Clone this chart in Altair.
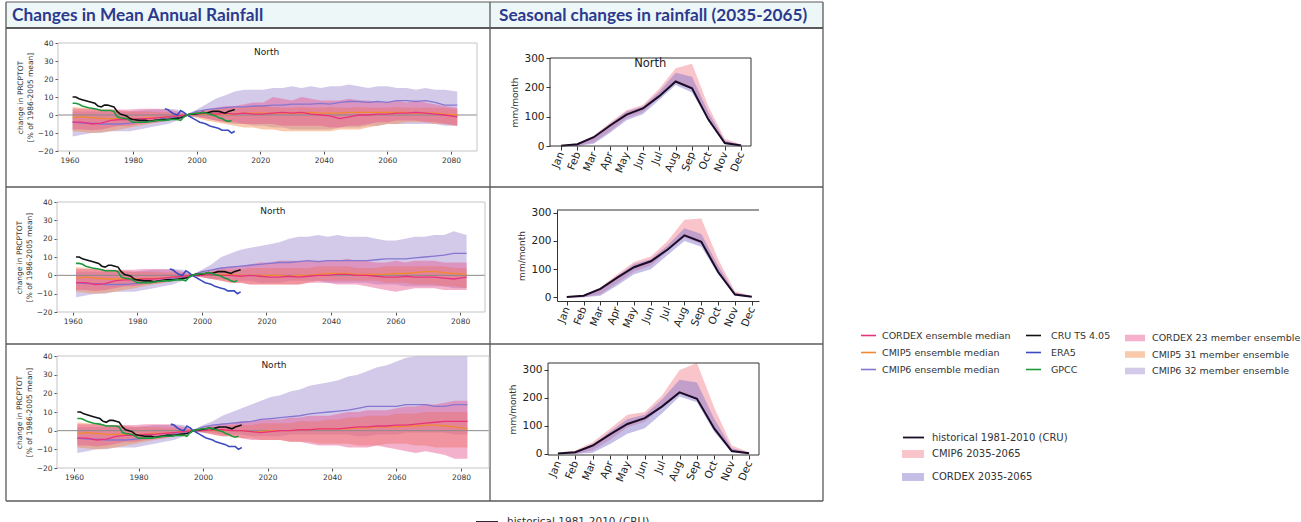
import altair as alt
import pandas as pd

W, H = 1301, 522

# ------------------------------------------------------------------ data
YEARS_HIST = [1961, 1964, 1967, 1970, 1973, 1976, 1979, 1982, 1985, 1988, 1991, 1994, 1997]
YEARS_FUT = [2000, 2003, 2006, 2009, 2012, 2015, 2018, 2021, 2024, 2027, 2030, 2033, 2036, 2039,
             2042, 2045, 2048, 2051, 2054, 2057, 2060, 2063, 2066, 2069, 2072, 2075, 2078, 2082]

# historical model envelopes / medians (same in all three panels)
CMIP6_LO_HIST = [-12, -11, -10, -10, -9, -9, -9, -8, -7, -6, -5, -3, -0.5]
CMIP6_HI_HIST = [2, 2, 2, 2, 2, 2, 2, 2.5, 3, 3, 3.5, 3, 0.5]
CMIP5_LO_HIST = [-9, -9.5, -10, -9.5, -9, -8, -7, -6, -5, -4, -3, -2, -0.5]
CMIP5_HI_HIST = [4.5, 4, 3.5, 3, 3, 2.5, 2, 2, 2, 1.5, 1.5, 1, 0.5]
CORDEX_LO_HIST = [-8, -8, -8.5, -8, -7, -6, -6, -5, -4.5, -4, -3, -2, -0.5]
CORDEX_HI_HIST = [3.5, 3.5, 3.5, 3, 3, 3, 3, 3.5, 3.5, 3.5, 3, 2, 0.5]
CMIP6_MED_HIST = [-4, -4.5, -4.5, -5, -5, -5, -4.5, -4, -3.5, -2.5, -1.5, -1, 0]
CMIP5_MED_HIST = [-1.5, -1, -1.5, -2, -2, -2, -2, -2, -1.5, -1.5, -1, -0.5, 0]
CORDEX_MED_HIST = [-4, -4, -5, -4.5, -3, -2.5, -2.5, -2, -2, -1.5, -1, -0.5, 0]

# panel 1 future
CMIP6_HI_P1 = [3, 6, 9, 11, 13, 14, 14, 14, 15, 15, 16, 15, 16, 15, 16, 16, 17, 16, 15, 16, 16, 15, 15, 14, 15, 14, 14, 13]
CMIP6_LO_P1 = [-1, -2, -3, -4, -5, -5, -6, -6, -7, -7, -8, -8, -8, -8, -8, -7, -7, -7, -6, -6, -5, -5, -5, -5, -5, -5, -6, -6]
CMIP6_MED_P1 = [2, 3, 3.5, 4, 4.5, 4.5, 5, 5, 5.5, 5.5, 6, 6, 6, 6.5, 6, 7, 7.5, 7.5, 7, 7.5, 7, 8, 8, 7.5, 8, 7, 5.5, 5.5]
CORDEX_HI_P1 = [2, 3, 4, 5, 5, 6, 7, 7, 10, 9, 8, 10, 9, 8, 8, 8, 9, 8, 8, 7, 7, 8, 7, 8, 7, 6, 5, 4]
CORDEX_LO_P1 = [-1, -2, -3, -4, -4, -5, -5, -5, -5, -6, -6, -6, -6, -6, -7, -7, -6, -6, -5, -4, -4, -3, -3, -3, -4, -4, -5, -6]
CORDEX_MED_P1 = [0.5, 1, 0.5, 1, 0.5, 1, 0.5, 0.5, 1, 1.5, 1, 1.5, 0.5, 0, -0.5, -2, -1, 0, 0, 0.5, 0.5, 1, 1, 1.5, 1, 0.5, 0, -1]
CMIP5_HI_P1 = [1.5, 2.5, 3, 4, 4, 4.5, 5, 5, 4.5, 4, 4, 4.5, 4, 4, 4.5, 4, 4, 4.5, 4, 4, 4, 4.5, 4, 4, 4, 4, 4, 3]
CMIP5_LO_P1 = [-1.5, -3, -4, -5, -6, -7, -7, -8, -8, -9, -9, -9, -9, -9, -9, -8, -8, -8, -7, -6, -5, -5, -4, -4, -4, -5, -5, -6]
CMIP5_MED_P1 = [0.5, 0.5, 0.5, 0.5, 0.5, 1, 1, 1, 1, 1, 1, 1, 1.5, 1, 1, 1, 1.5, 1.5, 1.5, 1.5, 1.5, 1.5, 1.5, 1, 1, 1, 0.5, 0]

# panel 2 future
CMIP6_HI_P2 = [3, 6, 10, 12, 14, 15, 16, 17, 18, 20, 21, 21, 22, 21, 22, 21, 21, 21, 20, 19, 19, 20, 21, 21, 22, 22, 24, 22]
CMIP6_LO_P2 = [-1, -2, -2, -3, -3, -3, -4, -4, -4, -3, -3, -3, -3, -4, -4, -4, -4, -4, -5, -5, -5, -6, -6, -6, -6, -6, -7, -7]
CMIP6_MED_P2 = [2, 3, 4, 4.5, 5, 5.5, 6, 6.5, 7, 7, 7.5, 8, 7.5, 8, 8, 8, 8, 8, 8.5, 9, 9, 9, 9.5, 10, 10.5, 11, 12, 12]
CORDEX_HI_P2 = [2, 3, 4, 5, 5, 6, 7, 7, 8, 8, 8, 8, 8, 8, 8, 9, 8, 8, 7, 7, 8, 7, 8, 8, 8, 7, 7, 7]
CORDEX_LO_P2 = [-1, -2, -3, -4, -4, -5, -5, -5, -5, -5, -5, -4, -4, -4, -5, -5, -5, -6, -7, -8, -9, -8, -7, -7, -7, -8, -8, -8]
CORDEX_MED_P2 = [0, 0.5, 0, 0, -0.5, 0, -0.5, -1, -1, -0.5, -1, -0.5, 0, 0, 0.5, 0.5, 0, 0, -0.5, -1, -1, -0.5, -1, -1, -1, -1.5, -2, -1]
CMIP5_HI_P2 = [1, 2, 3, 3, 3, 4, 4, 4, 4, 4, 4, 4, 5, 5, 5, 5, 4, 4, 4, 5, 5, 5, 5, 5, 5, 5, 4, 4]
CMIP5_LO_P2 = [-1, -2, -3, -4, -4, -5, -5, -5, -5, -5, -5, -4, -3, -3, -3, -3, -3, -3, -3, -4, -4, -4, -5, -5, -5, -6, -6, -7]
CMIP5_MED_P2 = [0, 0.5, 0.5, 0.5, 0, 0, 0, 0, 0, -0.5, 0, 0, 0.5, 1, 1, 1, 0.5, 0.5, 0.5, 0.5, 1, 1, 1.5, 2, 2, 1.5, 1, 0.5]

# panel 3 future
CMIP6_HI_P3 = [3, 5, 8, 10, 12, 14, 16, 18, 19, 21, 22, 24, 25, 26, 27, 29, 30, 32, 34, 35, 37, 39, 41, 40, 42, 43, 44, 45]
CMIP6_LO_P3 = [-1, -1, -2, -2, -2, -3, -3, -3, -3, -2, -2, -2, -2, -2, -2, -2, -3, -3, -2, -2, -2, -1, -1, -1, -1, -1, -2, -2]
CMIP6_MED_P3 = [2, 3, 3.5, 4, 4.5, 5, 6, 6.5, 7, 7.5, 8, 9, 9.5, 10, 10.5, 11, 12, 13, 13, 13, 13, 14, 14, 14, 13, 13, 14, 14]
CORDEX_HI_P3 = [2, 3, 4, 4, 5, 5, 6, 6, 6, 7, 7, 8, 8, 8, 9, 10, 10, 11, 11, 11, 12, 13, 13, 14, 14, 15, 16, 16]
CORDEX_LO_P3 = [-1, -2, -3, -3, -4, -5, -5, -5, -5, -6, -6, -7, -8, -8, -8, -9, -9, -9, -8, -9, -10, -11, -12, -11, -12, -13, -15, -15]
CORDEX_MED_P3 = [0, 0.5, 0.5, 0, 0, -0.5, -1, -0.5, 0, 0, 0.5, 0.5, 1, 1, 1, 1.5, 2, 2, 2.5, 2.5, 3, 3, 3.5, 4, 4.5, 5, 5, 5]
CMIP5_HI_P3 = [1, 2, 2, 3, 3, 3, 4, 4, 4, 4, 5, 5, 5, 6, 6, 7, 7, 8, 8, 8, 9, 9, 9, 10, 10, 10, 10, 10]
CMIP5_LO_P3 = [-1, -2, -3, -3, -4, -4, -5, -5, -5, -6, -6, -6, -7, -7, -7, -7, -8, -8, -8, -7, -7, -7, -8, -8, -9, -9, -9, -9]
CMIP5_MED_P3 = [0, 0, 0, 0, 0, -0.5, -0.5, 0, 0, 0, 0.5, 0.5, 1, 1, 1, 1, 1.5, 1.5, 2, 2, 2, 2.5, 2.5, 3, 3, 2.5, 2, 1]

# observations
CRU_YEARS = [1961, 1962, 1963, 1964, 1966, 1968, 1969, 1970, 1971, 1972, 1973, 1974, 1975, 1976, 1977, 1978,
             1979, 1980, 1982, 1984, 1985, 1987, 1989, 1991, 1993, 1995, 1996, 1997, 1998, 1999, 2001, 2002,
             2003, 2004, 2005, 2006, 2007, 2008, 2009, 2010, 2011, 2012]
CRU_VALS = [10, 10, 9, 8.5, 7.5, 6.5, 5, 4.5, 5.5, 5.5, 5, 4.5, 2, 0.5, 0, -0.5,
            -2, -2.5, -3, -3, -3.5, -3, -2.5, -2.5, -2, -1.5, -1, 0, 0.5, 0.5, 1, 1.5,
            1, 1.5, 2, 2, 2, 1.5, 1, 2, 2.5, 3]
GPCC_YEARS = [1961, 1962, 1963, 1964, 1966, 1968, 1969, 1970, 1972, 1973, 1974, 1975, 1976, 1978, 1979, 1980,
              1982, 1984, 1986, 1988, 1990, 1992, 1994, 1995, 1996, 1997, 1998, 2000, 2001, 2002, 2003, 2004,
              2005, 2006, 2007, 2008, 2009, 2010, 2011]
GPCC_VALS = [6.5, 6.5, 6, 5, 4, 3.5, 3, 2.5, 2.5, 2.5, 2, -1, -1.5, -2, -3, -4,
             -4, -4, -3.5, -3, -3, -2.5, -2.5, -3, -1, 0, 0.5, 1, 1, 1.5, 1, 0.5,
             0, -0.5, -1.5, -2, -3, -3.5, -3]
ERA5_YEARS = [1990, 1991, 1992, 1993, 1994, 1995, 1996, 1997, 1998, 1999, 2000, 2001, 2002, 2003, 2004, 2005,
              2006, 2007, 2008, 2009, 2010, 2011, 2012]
ERA5_VALS = [3.5, 3, 1.5, 0.5, 0, 2.5, 1.5, 0, -1, -2, -3, -4, -4.5, -5, -6, -6.5,
             -7, -7.5, -8.5, -8.5, -8.5, -10, -9]

# seasonal cycle
MONTHS = ["Jan", "Feb", "Mar", "Apr", "May", "Jun", "Jul", "Aug", "Sep", "Oct", "Nov", "Dec"]
MONTH_NUM = [1, 2, 3, 4, 5, 6, 7, 8, 9, 10, 11, 12]
SEAS_HIST = [1, 6, 30, 70, 107, 128, 170, 220, 197, 90, 10, 2]
S1_CMIP6_LO = [0, 0, 12, 50, 95, 115, 168, 215, 195, 95, 8, 0]
S1_CMIP6_HI = [3, 8, 35, 80, 122, 140, 195, 265, 280, 135, 25, 5]
S1_CORDEX_LO = [0, 0, 8, 45, 88, 108, 158, 208, 182, 85, 6, 0]
S1_CORDEX_HI = [2, 6, 30, 75, 118, 135, 185, 250, 236, 115, 18, 4]
S2_CMIP6_LO = [0, 0, 10, 50, 92, 112, 165, 212, 190, 90, 8, 0]
S2_CMIP6_HI = [3, 8, 35, 82, 125, 145, 200, 275, 280, 135, 22, 5]
S2_CORDEX_LO = [0, 0, 6, 42, 82, 100, 150, 200, 180, 82, 6, 0]
S2_CORDEX_HI = [2, 6, 30, 75, 118, 135, 185, 245, 225, 112, 16, 4]
S3_CMIP6_LO = [0, 0, 12, 50, 95, 115, 168, 215, 195, 95, 8, 0]
S3_CMIP6_HI = [4, 12, 42, 90, 140, 150, 210, 300, 330, 165, 30, 6]
S3_CORDEX_LO = [0, 0, 4, 35, 72, 92, 145, 205, 185, 78, 5, 0]
S3_CORDEX_HI = [2, 8, 32, 80, 125, 140, 195, 265, 255, 125, 20, 4]

# names / colours
BAND_NAMES = ["CORDEX 23 member ensemble", "CMIP5 31 member ensemble", "CMIP6 32 member ensemble"]
BAND_COLORS = ["#e6528f", "#f58a4a", "#9d8ad0"]
MED_NAMES = ["CORDEX ensemble median", "CMIP5 ensemble median", "CMIP6 ensemble median"]
MED_COLORS = ["#e8327f", "#f08a30", "#8576d0"]
OBS_NAMES = ["CRU TS 4.05", "ERA5", "GPCC"]
OBS_COLORS = ["#111111", "#3b4cc0", "#1e9a3c"]
SEAS_BAND_NAMES = ["CMIP6 2035-2065", "CORDEX 2035-2065"]
SEAS_BAND_COLORS = ["#f27c8a", "#7e70cc"]
HIST_NAME = ["historical 1981-2010 (CRU)"]
HIST_COLOR = ["#1a0c26"]

YEAR_TICKS = [1960, 1980, 2000, 2020, 2040, 2060, 2080]
PCT_TICKS = [-20, -10, 0, 10, 20, 30, 40]
MM_TICKS = [0, 100, 200, 300]

# ------------------------------------------------------------------ layout
TS_BOX = [(58, 477, 43, 151), (57, 485, 202, 312), (57, 489, 356, 468)]
TS_XDOM = [(1956.4, 2088.2), (1955.1, 2087.7), (1954.7, 2088.7)]
S_BOX = [(550, 751, 58, 146), (557, 759, 210, 301), (548, 759, 363, 455)]
S_XDOM = [(0.33, 12.6), (0.42, 12.43), (0.43, 12.57)]
S_YDOM = [(0, 300), (-13, 310), (-4, 325)]

FONT = "DejaVu Sans"

FUT = {
    1: dict(c6lo=CMIP6_LO_P1, c6hi=CMIP6_HI_P1, c6m=CMIP6_MED_P1, c5lo=CMIP5_LO_P1, c5hi=CMIP5_HI_P1,
            c5m=CMIP5_MED_P1, colo=CORDEX_LO_P1, cohi=CORDEX_HI_P1, com=CORDEX_MED_P1),
    2: dict(c6lo=CMIP6_LO_P2, c6hi=CMIP6_HI_P2, c6m=CMIP6_MED_P2, c5lo=CMIP5_LO_P2, c5hi=CMIP5_HI_P2,
            c5m=CMIP5_MED_P2, colo=CORDEX_LO_P2, cohi=CORDEX_HI_P2, com=CORDEX_MED_P2),
    3: dict(c6lo=CMIP6_LO_P3, c6hi=CMIP6_HI_P3, c6m=CMIP6_MED_P3, c5lo=CMIP5_LO_P3, c5hi=CMIP5_HI_P3,
            c5m=CMIP5_MED_P3, colo=CORDEX_LO_P3, cohi=CORDEX_HI_P3, com=CORDEX_MED_P3),
}
SEAS = {
    1: (S1_CMIP6_LO, S1_CMIP6_HI, S1_CORDEX_LO, S1_CORDEX_HI),
    2: (S2_CMIP6_LO, S2_CMIP6_HI, S2_CORDEX_LO, S2_CORDEX_HI),
    3: (S3_CMIP6_LO, S3_CMIP6_HI, S3_CORDEX_LO, S3_CORDEX_HI),
}


def sc(dom, rng, clamp=False):
    return alt.Scale(domain=list(dom), range=list(rng), nice=False, zero=False, clamp=clamp)


def swatch_path(h):
    return f"M-1,-{h}L1,-{h}L1,{h}L-1,{h}Z"


def ts_panel(p):
    x0, x1, y0, y1 = TS_BOX[p - 1]
    xd = TS_XDOM[p - 1]
    xs = sc(xd, (x0, x1))
    ys = sc((-20, 40), (y1, y0), clamp=True)
    f = FUT[p]
    years = YEARS_HIST + YEARS_FUT
    layers = []

    def X(field):
        return alt.X(field, type="quantitative", scale=xs, axis=None)

    def Y(field):
        return alt.Y(field, type="quantitative", scale=ys, axis=None)

    band_legend = alt.Legend(orient="none", legendX=1125, legendY=328, title=None, padding=0,
                             symbolType=swatch_path(0.33), symbolSize=400, symbolOpacity=0.45,
                             symbolStrokeWidth=0, labelFont=FONT, labelFontSize=9.5,
                             labelColor="#333333", labelOffset=7, rowPadding=1.5) if p == 1 else None
    bands = [
        (BAND_NAMES[2], CMIP6_LO_HIST + f["c6lo"], CMIP6_HI_HIST + f["c6hi"]),
        (BAND_NAMES[1], CMIP5_LO_HIST + f["c5lo"], CMIP5_HI_HIST + f["c5hi"]),
        (BAND_NAMES[0], CORDEX_LO_HIST + f["colo"], CORDEX_HI_HIST + f["cohi"]),
    ]
    for k, (name, lo, hi) in enumerate(bands):
        df = pd.DataFrame({"year": years, "lo": lo, "hi": hi, "series": name})
        lg = band_legend if k == 0 else None
        fill = alt.Fill("series:N", scale=alt.Scale(domain=BAND_NAMES, range=BAND_COLORS), legend=lg)
        layers.append(alt.Chart(df).mark_area(opacity=0.45).encode(
            x=X("year"), y=alt.Y("lo:Q", scale=ys, axis=None, stack=None), y2="hi:Q", fill=fill))

    # zero line
    zdf = pd.DataFrame({"x": [xd[0]], "x2": [xd[1]], "y": [0]})
    layers.append(alt.Chart(zdf).mark_rule(color="#8a8a8a", strokeWidth=1).encode(
        x=X("x"), x2="x2:Q", y=Y("y")))

    # medians
    med_rows = []
    for name, h, fu in [(MED_NAMES[2], CMIP6_MED_HIST, f["c6m"]),
                        (MED_NAMES[1], CMIP5_MED_HIST, f["c5m"]),
                        (MED_NAMES[0], CORDEX_MED_HIST, f["com"])]:
        med_rows.append(pd.DataFrame({"year": years, "value": h + fu, "series": name}))
    med_df = pd.concat(med_rows, ignore_index=True)
    if p == 1:
        med_leg = alt.Legend(orient="none", legendX=860, legendY=327, title=None, padding=0,
                             symbolType="stroke", symbolSize=225, symbolStrokeWidth=1.6,
                             labelFont=FONT, labelFontSize=9.5, labelColor="#333333",
                             labelOffset=5, rowPadding=4)
    else:
        med_leg = None
    layers.append(alt.Chart(med_df).mark_line(strokeWidth=1.3).encode(
        x=X("year"), y=Y("value"),
        stroke=alt.Stroke("series:N", scale=alt.Scale(domain=MED_NAMES, range=MED_COLORS), legend=med_leg)))

    # observations
    obs_df = pd.concat([
        pd.DataFrame({"year": CRU_YEARS, "value": CRU_VALS, "series": OBS_NAMES[0]}),
        pd.DataFrame({"year": ERA5_YEARS, "value": ERA5_VALS, "series": OBS_NAMES[1]}),
        pd.DataFrame({"year": GPCC_YEARS, "value": GPCC_VALS, "series": OBS_NAMES[2]}),
    ], ignore_index=True)
    if p == 1:
        obs_leg = alt.Legend(orient="none", legendX=1025, legendY=327, title=None, padding=0,
                             symbolType="stroke", symbolSize=225, symbolStrokeWidth=1.6,
                             labelFont=FONT, labelFontSize=9.5, labelColor="#333333",
                             labelOffset=9, rowPadding=4)
    else:
        obs_leg = None
    layers.append(alt.Chart(obs_df).mark_line(strokeWidth=1.6).encode(
        x=X("year"), y=Y("value"),
        stroke=alt.Stroke("series:N", scale=alt.Scale(domain=OBS_NAMES, range=OBS_COLORS), legend=obs_leg)))

    # frame + axes
    fdf = pd.DataFrame({"x": [xd[0]], "x2": [xd[1]], "y": [-20], "y2": [40]})
    layers.append(alt.Chart(fdf).mark_rect(fill="white", fillOpacity=0, stroke="#c4c4c4", strokeWidth=1).encode(
        x=alt.X("x:Q", scale=xs, axis=alt.Axis(orient="bottom", offset=y1 - H, values=YEAR_TICKS, format="d",
                                                 title=None, grid=False, domain=False, tickSize=3,
                                                 tickColor="#555555", labelFont=FONT, labelFontSize=7.5,
                                                 labelColor="#333333", labelPadding=2)),
        x2="x2:Q",
        y=alt.Y("y:Q", scale=ys, axis=alt.Axis(orient="left", offset=-x0, values=PCT_TICKS, format="d",
                                                 title=["change in PRCPTOT", "[% of 1986-2005 mean]"],
                                                 titleFont=FONT, titleFontSize=7.5, titleFontWeight="normal",
                                                 titleColor="#333333", titlePadding=3,
                                                 grid=False, domain=False, tickSize=3,
                                                 tickColor="#555555", labelFont=FONT, labelFontSize=7.5,
                                                 labelColor="#333333", labelPadding=2)),
        y2="y2:Q"))

    # panel label
    tdf = pd.DataFrame({"x": [2022], "y": [35], "t": ["North"]})
    layers.append(alt.Chart(tdf).mark_text(font=FONT, fontSize=9, color="#222222", baseline="middle").encode(
        x=X("x"), y=Y("y"), text="t:N"))
    return layers


def seas_panel(p):
    x0, x1, y0, y1 = S_BOX[p - 1]
    xs = sc(S_XDOM[p - 1], (x0, x1))
    ys = sc(S_YDOM[p - 1], (y1, y0), clamp=True)
    c6lo, c6hi, colo, cohi = SEAS[p]
    layers = []

    def X(field):
        return alt.X(field, type="quantitative", scale=xs, axis=None)

    def Y(field):
        return alt.Y(field, type="quantitative", scale=ys, axis=None)

    band_leg = alt.Legend(orient="none", legendX=902, legendY=443, title=None, padding=0,
                          symbolType=swatch_path(0.36), symbolSize=484, symbolOpacity=0.45,
                          symbolStrokeWidth=0, labelFont=FONT, labelFontSize=10, labelColor="#333333",
                          labelOffset=8, rowPadding=7) if p == 1 else None
    for k, (name, lo, hi) in enumerate([(SEAS_BAND_NAMES[0], c6lo, c6hi), (SEAS_BAND_NAMES[1], colo, cohi)]):
        df = pd.DataFrame({"m": MONTH_NUM, "lo": lo, "hi": hi, "series": name})
        lg = band_leg if k == 0 else None
        layers.append(alt.Chart(df).mark_area(opacity=0.45).encode(
            x=X("m"), y=alt.Y("lo:Q", scale=ys, axis=None, stack=None), y2="hi:Q",
            fill=alt.Fill("series:N", scale=alt.Scale(domain=SEAS_BAND_NAMES, range=SEAS_BAND_COLORS),
                          legend=lg)))

    if p == 1:
        hleg = alt.Legend(orient="none", legendX=902, legendY=426, title=None, padding=0,
                          symbolType="stroke", symbolSize=441, symbolStrokeWidth=1.8,
                          labelFont=FONT, labelFontSize=10, labelColor="#333333", labelOffset=7)
    elif p == 3:
        hleg = alt.Legend(orient="none", legendX=475, legendY=510, title=None, padding=0,
                          symbolType="stroke", symbolSize=484, symbolStrokeWidth=1.8,
                          labelFont=FONT, labelFontSize=10.5, labelColor="#333333", labelOffset=8)
    else:
        hleg = None
    hdf = pd.DataFrame({"m": MONTH_NUM, "value": SEAS_HIST, "series": HIST_NAME[0]})
    layers.append(alt.Chart(hdf).mark_line(strokeWidth=2).encode(
        x=X("m"), y=Y("value"),
        stroke=alt.Stroke("series:N", scale=alt.Scale(domain=HIST_NAME, range=HIST_COLOR), legend=hleg)))

    label_expr = "[" + ",".join(f"'{m}'" for m in MONTHS) + "][datum.value - 1]"
    xaxis = alt.Axis(orient="bottom", offset=y1 - H, values=MONTH_NUM, labelExpr=label_expr, title=None,
                     grid=False, domain=(p == 2), domainColor="#333333", tickSize=4, tickColor="#333333",
                     labelAngle=-68, labelOverlap=False, labelFont=FONT, labelFontSize=10.5,
                     labelColor="#222222", labelPadding=2)
    yaxis = alt.Axis(orient="left", offset=-x0, values=MM_TICKS, format="d", title="mm/month",
                     titleFont=FONT, titleFontSize=9, titleFontWeight="normal", titleColor="#333333",
                     titlePadding=4, grid=False, domain=(p == 2), domainColor="#333333", tickSize=4,
                     tickColor="#333333", labelFont=FONT, labelFontSize=10.5, labelColor="#222222",
                     labelPadding=2)
    xd = S_XDOM[p - 1]
    yd = S_YDOM[p - 1]
    if p == 2:
        fdf = pd.DataFrame({"x": [xd[0]], "x2": [xd[1]], "y": [yd[1]]})
        layers.append(alt.Chart(fdf).mark_rule(color="#333333", strokeWidth=1).encode(
            x=alt.X("x:Q", scale=xs, axis=xaxis), x2="x2:Q", y=alt.Y("y:Q", scale=ys, axis=yaxis)))
    else:
        fdf = pd.DataFrame({"x": [xd[0]], "x2": [xd[1]], "y": [yd[0]], "y2": [yd[1]]})
        layers.append(alt.Chart(fdf).mark_rect(fill="white", fillOpacity=0, stroke="#333333",
                                               strokeWidth=1).encode(
            x=alt.X("x:Q", scale=xs, axis=xaxis), x2="x2:Q",
            y=alt.Y("y:Q", scale=ys, axis=yaxis), y2="y2:Q"))
    if p == 1:
        tdf = pd.DataFrame({"x": [6.45], "y": [278], "t": ["North"]})
        layers.append(alt.Chart(tdf).mark_text(font=FONT, fontSize=11.5, color="#222222",
                                               baseline="middle").encode(
            x=X("x"), y=Y("y"), text="t:N"))
    return layers


# ------------------------------------------------------------------ table decoration
one = pd.DataFrame({"d": [0]})
HEAD_FILL = "#eef7f7"
LINE = "#5a5a5a"
deco = [
    alt.Chart(one).mark_rect(color=HEAD_FILL).encode(x=alt.value(6), x2=alt.value(823), y=alt.value(2), y2=alt.value(28)),
    alt.Chart(one).mark_text(font="Lato", fontSize=17.3, fontWeight="bold", color="#2c3a8e", align="left",
                             baseline="middle").encode(x=alt.value(12), y=alt.value(15.5),
                                                       text=alt.value("Changes in Mean Annual Rainfall")),
    alt.Chart(one).mark_text(font="Lato", fontSize=17.2, fontWeight="bold", color="#2c3a8e", align="left",
                             baseline="middle").encode(x=alt.value(499), y=alt.value(15.5),
                                                       text=alt.value("Seasonal changes in rainfall (2035-2065)")),
]
for yy, w in [(2, 1.2), (28, 1.8), (187, 1.5), (344, 1.5), (501, 1.5)]:
    deco.append(alt.Chart(one).mark_rule(color=LINE, strokeWidth=w).encode(
        x=alt.value(6), x2=alt.value(823), y=alt.value(yy)))
for xx in [6, 490, 823]:
    deco.append(alt.Chart(one).mark_rule(color=LINE, strokeWidth=1.3).encode(
        x=alt.value(xx), y=alt.value(2), y2=alt.value(501)))

layers = deco
for p in (1, 2, 3):
    layers += ts_panel(p)
    layers += seas_panel(p)

chart = alt.layer(*layers).properties(
    width=W, height=H, padding=0, autosize=alt.AutoSizeParams(type="none"), background="white"
).resolve_scale(
    x="independent", y="independent", fill="independent", stroke="independent"
).configure_view(strokeWidth=0)

chart.save("out.html", embed_options={"renderer": "svg", "actions": False})
